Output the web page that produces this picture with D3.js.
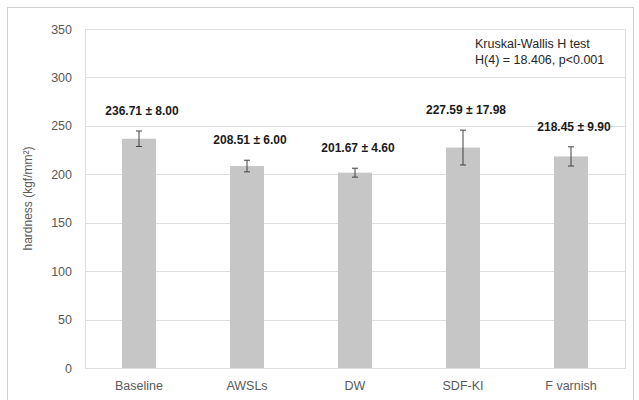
<!DOCTYPE html>
<html>
<head>
<meta charset="utf-8">
<script src="https://cdn.jsdelivr.net/npm/d3@7"></script>
<style>
  body { margin: 0; background: #fff; }
  text { font-family: "Liberation Sans", Arial, sans-serif; }
</style>
</head>
<body>
<svg id="chart" width="639" height="400"></svg>
<script>
var groups = ["Baseline", "AWSLs", "DW", "SDF-KI", "F varnish"];
var means = [236.71, 208.51, 201.67, 227.59, 218.45];
var sds = [8.00, 6.00, 4.60, 17.98, 9.90];
var yTicks = [0, 50, 100, 150, 200, 250, 300, 350];
var note = ["Kruskal-Wallis H test", "H(4) = 18.406, p<0.001"];

var data = groups.map(function(g, i) { return {group: g, mean: means[i], sd: sds[i]}; });

var svg = d3.select("#chart"),
    margin = {top: 29, right: 14, bottom: 32, left: 85},
    width = +svg.attr("width") - margin.left - margin.right,
    height = +svg.attr("height") - margin.top - margin.bottom;

// outer chart border
svg.append("rect")
    .attr("x", 7.5).attr("y", 7.5)
    .attr("width", 626).attr("height", 420)
    .attr("fill", "none")
    .attr("stroke", "#d0d0d0");

var g = svg.append("g").attr("transform", "translate(" + margin.left + "," + margin.top + ")");

var x = d3.scaleBand()
    .domain(groups)
    .range([0, width])
    .paddingInner(0.685)
    .paddingOuter(0.3425);

var y = d3.scaleLinear()
    .domain([0, 350])
    .range([height, 0]);

// gridlines
g.append("g")
  .selectAll("line")
  .data(yTicks)
  .enter().append("line")
    .attr("x1", 0).attr("x2", width)
    .attr("y1", function(d) { return Math.round(y(d)) + 0.5; })
    .attr("y2", function(d) { return Math.round(y(d)) + 0.5; })
    .attr("stroke", "#dedede");

// plot area border
g.append("rect")
    .attr("x", 0.5).attr("y", Math.round(y(350)) + 0.5)
    .attr("width", width).attr("height", Math.round(y(0)) - Math.round(y(350)))
    .attr("fill", "none")
    .attr("stroke", "#dedede");

// y axis labels
var yAxis = g.append("g")
    .call(d3.axisLeft(y).tickValues(yTicks).tickSize(0).tickPadding(13));
yAxis.select(".domain").remove();
yAxis.selectAll("text")
    .attr("fill", "#595959")
    .style("font-size", "12.5px")
    .style("font-family", "'Liberation Sans', Arial, sans-serif");

// x axis labels
var xAxis = g.append("g")
    .attr("transform", "translate(0," + height + ")")
    .call(d3.axisBottom(x).tickSize(0).tickPadding(13));
xAxis.select(".domain").remove();
xAxis.selectAll("text")
    .attr("fill", "#595959")
    .style("font-size", "12.5px")
    .style("font-family", "'Liberation Sans', Arial, sans-serif");

// axis title
svg.append("text")
    .attr("transform", "translate(32," + (margin.top + height / 2) + ") rotate(-90)")
    .attr("text-anchor", "middle")
    .attr("fill", "#595959")
    .style("font-size", "12px")
    .text("hardness (kgf/mm²)");

// bars
g.selectAll(".bar")
  .data(data)
  .enter().append("rect")
    .attr("class", "bar")
    .attr("x", function(d) { return x(d.group); })
    .attr("y", function(d) { return y(d.mean); })
    .attr("width", x.bandwidth())
    .attr("height", function(d) { return height - y(d.mean); })
    .attr("fill", "#c6c6c6");

// error bars
var err = g.selectAll(".err")
  .data(data)
  .enter().append("g")
    .attr("class", "err")
    .attr("transform", function(d) { return "translate(" + (x(d.group) + x.bandwidth() / 2) + ",0)"; });

err.append("line")
    .attr("y1", function(d) { return y(d.mean + d.sd); })
    .attr("y2", function(d) { return y(d.mean - d.sd); })
    .attr("stroke", "#404040");
err.append("line")
    .attr("x1", -3).attr("x2", 3)
    .attr("y1", function(d) { return y(d.mean + d.sd); })
    .attr("y2", function(d) { return y(d.mean + d.sd); })
    .attr("stroke", "#404040");
err.append("line")
    .attr("x1", -3).attr("x2", 3)
    .attr("y1", function(d) { return y(d.mean - d.sd); })
    .attr("y2", function(d) { return y(d.mean - d.sd); })
    .attr("stroke", "#404040");

// value labels
g.selectAll(".lbl")
  .data(data)
  .enter().append("text")
    .attr("class", "lbl")
    .attr("x", function(d) { return x(d.group) + x.bandwidth() / 2 + 3; })
    .attr("y", function(d) { return y(d.mean + d.sd) - 16; })
    .attr("text-anchor", "middle")
    .attr("fill", "#1a1a1a")
    .style("font-size", "12px")
    .style("font-weight", "bold")
    .text(function(d) { return d.mean.toFixed(2) + " ± " + d.sd.toFixed(2); });

// test annotation
svg.append("g")
  .selectAll("text")
  .data(note)
  .enter().append("text")
    .attr("x", 475)
    .attr("y", function(d, i) { return 48 + i * 16; })
    .attr("fill", "#262626")
    .style("font-size", "12.5px")
    .text(function(d) { return d; });
</script>
</body>
</html>
